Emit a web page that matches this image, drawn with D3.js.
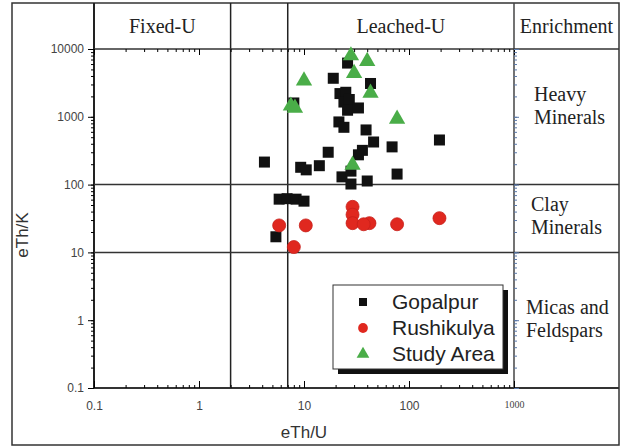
<!DOCTYPE html>
<html>
<head>
<meta charset="utf-8">
<title>eTh/K vs eTh/U</title>
<script src="https://d3js.org/d3.v7.min.js"></script>
<style>
  body { margin: 0; background: #fff; }
  .tick text { font-family: "Liberation Sans", Arial, sans-serif; fill: #444; }
  .zone { font-family: "Liberation Serif", "Times New Roman", serif; fill: #222; }
</style>
</head>
<body>
<div id="chart"></div>
<script>
// data (eTh/U, eTh/K)
var gopalpurU = [26, 19, 43, 22, 25, 24, 27, 26, 33, 8, 21.5, 24, 39, 46, 36, 33, 69, 195, 17, 4.2, 9.3, 10.5, 14, 23, 28, 40, 77, 5.8, 6.9, 8.4, 10, 5.4, 28];
var gopalpurK = [6200, 3700, 3100, 2200, 2300, 1650, 1800, 1250, 1350, 1600, 840, 700, 640, 425, 320, 275, 360, 455, 300, 215, 180, 165, 190, 130, 102, 113, 143, 61, 62, 61, 57, 17, 158];

var rushikulyaU = [5.8, 10.4, 8, 29, 29, 29, 42, 37, 77, 195];
var rushikulyaK = [25, 25, 12, 47, 36, 27, 27, 26, 26, 32];

var studyU = [28, 40, 30, 10, 43, 7.5, 8.2, 77, 29];
var studyK = [8000, 6600, 4400, 3400, 2250, 1450, 1350, 930, 195];

var majorTicks = [0.1, 1, 10, 100, 1000, 10000];
var xMajor = [0.1, 1, 10, 100, 1000];
var uBounds = [2, 7];          // Fixed-U / Leached-U dividers
var kBounds = [100, 10];       // mineral class dividers
var headerLabels = ["Fixed-U", "Leached-U", "Enrichment"];
var zoneLabels = [["Heavy", "Minerals"], ["Clay", "Minerals"], ["Micas and", "Feldspars"]];
var seriesNames = ["Gopalpur", "Rushikulya", "Study Area"];

var W = 624, H = 448;
var frame = {left: 12, top: 3, right: 619, bottom: 445};
var plot = {left: 94, top: 49, right: 514, bottom: 388};

var svg = d3.select("#chart").append("svg")
  .attr("width", W).attr("height", H);

var x = d3.scaleLog().domain([0.1, 1000]).range([plot.left, plot.right]);
var y = d3.scaleLog().domain([0.1, 10000]).range([plot.bottom, plot.top]);
var allX = x.ticks();
var allY = y.ticks();

// outer frame
svg.append("rect")
  .attr("x", frame.left).attr("y", frame.top)
  .attr("width", frame.right - frame.left).attr("height", frame.bottom - frame.top)
  .attr("fill", "none").attr("stroke", "#333").attr("stroke-width", 1.5);

var lines = svg.append("g").attr("stroke", "#333").attr("stroke-width", 1.5);
// vertical dividers from frame top down to plot bottom
[x(0.1), x(uBounds[0]), x(uBounds[1]), x(1000)].forEach(function(px, i) {
  lines.append("line")
    .attr("x1", px).attr("x2", px)
    .attr("y1", frame.top).attr("y2", plot.bottom)
    .attr("stroke", i == 3 ? "#444" : "#222")
    .attr("stroke-width", i == 0 ? 2 : 1.5);
});
// horizontal dividers run out to the right frame
[10000, kBounds[0], kBounds[1], 0.1].forEach(function(v) {
  lines.append("line")
    .attr("x1", plot.left).attr("x2", frame.right)
    .attr("y1", y(v)).attr("y2", y(v))
    .attr("stroke-width", v == 0.1 ? 2 : 1.5);
});

// axes
svg.append("g").attr("transform", "translate(" + plot.left + ",0)")
  .call(d3.axisLeft(y).tickValues(allY).tickSize(3).tickFormat(""))
  .call(g => g.select(".domain").remove());
svg.append("g").attr("transform", "translate(" + plot.left + ",0)")
  .call(d3.axisLeft(y).tickValues(majorTicks).tickSize(6).tickPadding(4).tickFormat(d => String(d)))
  .call(g => g.select(".domain").remove())
  .call(g => g.selectAll("text").attr("font-size", 12));

svg.append("g").attr("transform", "translate(0," + plot.bottom + ")")
  .call(d3.axisBottom(x).tickValues(allX).tickSize(-3).tickFormat(""))
  .call(g => g.select(".domain").remove());
svg.append("g").attr("transform", "translate(0," + plot.bottom + ")")
  .call(d3.axisBottom(x).tickValues(xMajor).tickSize(-7).tickPadding(13).tickFormat(d => String(d)))
  .call(g => g.select(".domain").remove())
  .call(g => g.selectAll("text").attr("font-size", 12))
  .call(g => g.selectAll("text").filter(d => d == 1000)
    .style("font-family", "Liberation Serif, serif").attr("font-size", 10));

svg.append("g").attr("transform", "translate(0," + plot.top + ")")
  .call(d3.axisTop(x).tickValues(allX).tickSize(-3).tickFormat(""))
  .call(g => g.select(".domain").remove());
svg.append("g").attr("transform", "translate(0," + plot.top + ")")
  .call(d3.axisTop(x).tickValues(xMajor).tickSize(-6).tickFormat(""))
  .call(g => g.select(".domain").remove());

// right axis, bluish
svg.append("g").attr("transform", "translate(" + plot.right + ",0)")
  .call(d3.axisRight(y).tickValues(allY).tickSize(3).tickFormat(""))
  .call(g => g.select(".domain").remove())
  .call(g => g.selectAll("line").attr("stroke", "#5a78a8"));
svg.append("g").attr("transform", "translate(" + plot.right + ",0)")
  .call(d3.axisRight(y).tickValues(majorTicks).tickSize(5).tickFormat(""))
  .call(g => g.select(".domain").remove())
  .call(g => g.selectAll("line").attr("stroke", "#5a78a8"));

// header labels
var headerX = [(x(0.1) + x(uBounds[0])) / 2, (x(uBounds[1]) + x(1000)) / 2, (x(1000) + frame.right) / 2];
headerLabels.forEach(function(t, i) {
  svg.append("text").attr("class", "zone")
    .attr("x", headerX[i]).attr("y", 33)
    .attr("text-anchor", "middle").attr("font-size", 20)
    .text(t);
});

// right column labels
var zoneX = [534, 531, 526];
var zoneY = [101, 211, 314];
zoneLabels.forEach(function(pair, i) {
  var t = svg.append("text").attr("class", "zone")
    .attr("x", zoneX[i]).attr("y", zoneY[i])
    .attr("font-size", 20);
  t.append("tspan").attr("x", zoneX[i]).text(pair[0]);
  t.append("tspan").attr("x", zoneX[i]).attr("dy", 23).text(pair[1]);
});

// axis titles
svg.append("text")
  .attr("x", (plot.left + plot.right) / 2).attr("y", 438)
  .attr("text-anchor", "middle")
  .attr("font-family", "Liberation Sans, Arial, sans-serif")
  .attr("font-size", 17).attr("fill", "#333")
  .text("eTh/U");
svg.append("text")
  .attr("transform", "translate(28,235) rotate(-90)")
  .attr("text-anchor", "middle")
  .attr("font-family", "Liberation Sans, Arial, sans-serif")
  .attr("font-size", 17).attr("fill", "#333")
  .text("eTh/K");

// points
var sq = 11;
svg.append("g").selectAll("rect")
  .data(d3.range(gopalpurU.length))
  .join("rect")
  .attr("x", i => x(gopalpurU[i]) - sq / 2)
  .attr("y", i => y(gopalpurK[i]) - sq / 2)
  .attr("width", sq).attr("height", sq)
  .attr("fill", "#111");

svg.append("g").selectAll("circle")
  .data(d3.range(rushikulyaU.length))
  .join("circle")
  .attr("cx", i => x(rushikulyaU[i]))
  .attr("cy", i => y(rushikulyaK[i]))
  .attr("r", 6.5)
  .attr("fill", "#e0281f").attr("stroke", "#c8201a").attr("stroke-width", 0.8);

var tri = d3.symbol().type(d3.symbolTriangle).size(115);
svg.append("g").selectAll("path")
  .data(d3.range(studyU.length))
  .join("path")
  .attr("transform", i => "translate(" + x(studyU[i]) + "," + y(studyK[i]) + ")")
  .attr("d", tri)
  .attr("fill", "#4aad48");

// legend with drop shadow
var lg = {x: 333, y: 285, w: 170, h: 84};
svg.append("rect")
  .attr("x", lg.x + 5).attr("y", lg.y + 5).attr("width", lg.w).attr("height", lg.h)
  .attr("fill", "#111");
svg.append("rect")
  .attr("x", lg.x).attr("y", lg.y).attr("width", lg.w).attr("height", lg.h)
  .attr("fill", "#fff").attr("stroke", "#333").attr("stroke-width", 1);

var legendMarks = [
  d3.symbol().type(d3.symbolSquare).size(64),
  d3.symbol().type(d3.symbolCircle).size(75),
  d3.symbol().type(d3.symbolTriangle).size(70)
];
var legendColors = ["#111", "#e0281f", "#4aad48"];
seriesNames.forEach(function(name, i) {
  var cy = lg.y + 17 + i * 26;
  svg.append("path")
    .attr("transform", "translate(" + (lg.x + 30) + "," + cy + ")")
    .attr("d", legendMarks[i]).attr("fill", legendColors[i]);
  svg.append("text")
    .attr("x", lg.x + 59).attr("y", cy + 7)
    .attr("font-family", "Liberation Sans, Arial, sans-serif")
    .attr("font-size", 21).attr("fill", "#222")
    .text(name);
});
</script>
</body>
</html>
